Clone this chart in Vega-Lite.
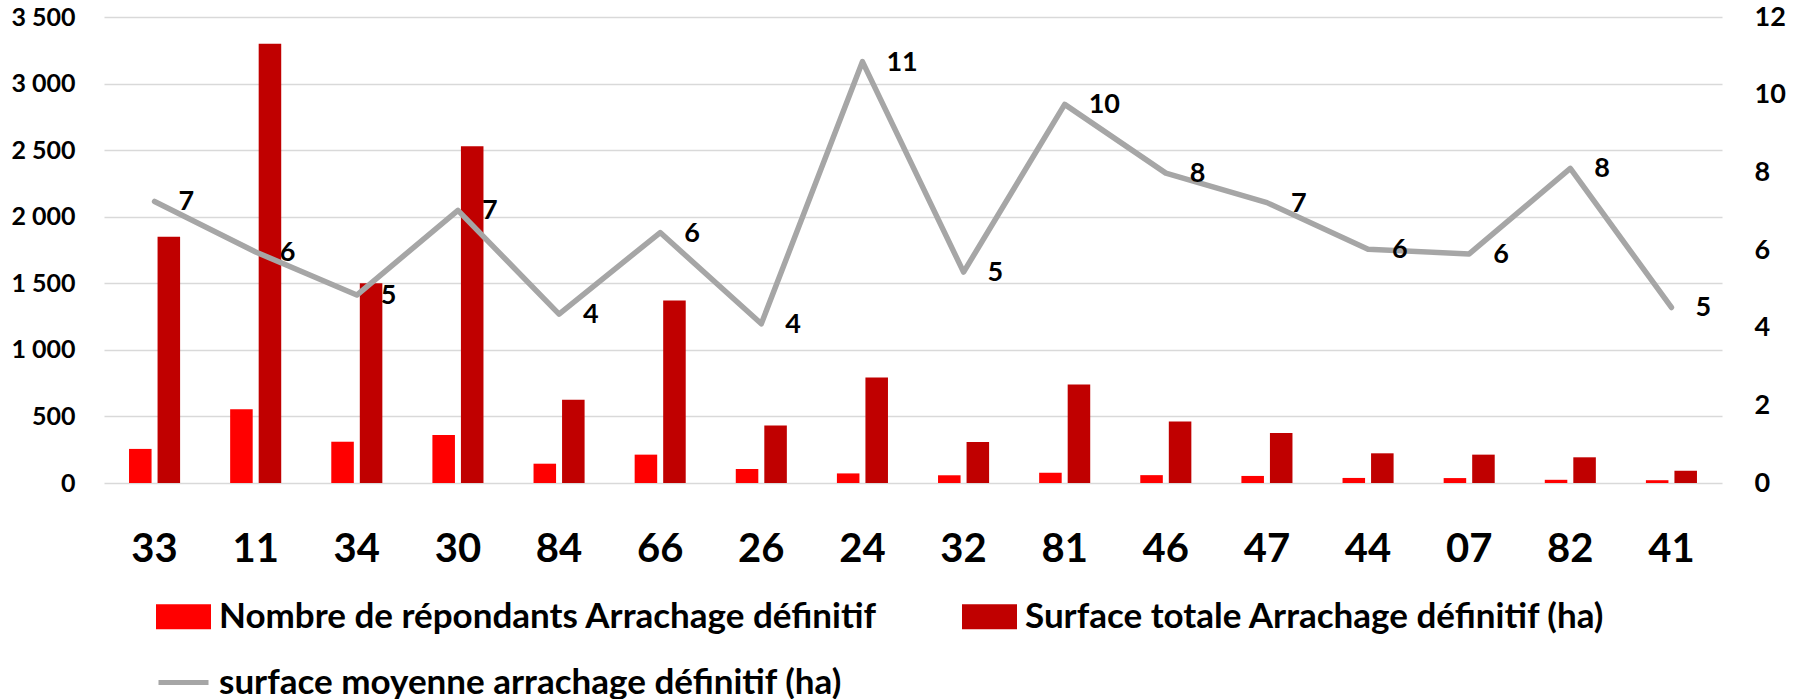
{
  "$schema": "https://vega.github.io/schema/vega-lite/v6.json",
  "width": 1618,
  "height": 466,
  "autosize": {"type": "none"},
  "padding": {"left": 104, "top": 17, "right": 80, "bottom": 216},
  "background": "white",
  "config": {
    "view": {"stroke": null},
    "font": "Lato",
    "axis": {"labelFont": "Lato", "labelFontWeight": "bold", "labelColor": "#000000", "domain": false, "ticks": false, "title": null}
  },
  "datasets": {
    "bars": [
      {"dep": "33", "serie": "Nombre de répondants Arrachage définitif", "value": 256},
      {"dep": "33", "serie": "Surface totale Arrachage définitif (ha)", "value": 1850},
      {"dep": "11", "serie": "Nombre de répondants Arrachage définitif", "value": 553},
      {"dep": "11", "serie": "Surface totale Arrachage définitif (ha)", "value": 3300},
      {"dep": "34", "serie": "Nombre de répondants Arrachage définitif", "value": 310},
      {"dep": "34", "serie": "Surface totale Arrachage définitif (ha)", "value": 1500},
      {"dep": "30", "serie": "Nombre de répondants Arrachage définitif", "value": 361},
      {"dep": "30", "serie": "Surface totale Arrachage définitif (ha)", "value": 2530},
      {"dep": "84", "serie": "Nombre de répondants Arrachage définitif", "value": 145},
      {"dep": "84", "serie": "Surface totale Arrachage définitif (ha)", "value": 626},
      {"dep": "66", "serie": "Nombre de répondants Arrachage définitif", "value": 213},
      {"dep": "66", "serie": "Surface totale Arrachage définitif (ha)", "value": 1370},
      {"dep": "26", "serie": "Nombre de répondants Arrachage définitif", "value": 105},
      {"dep": "26", "serie": "Surface totale Arrachage définitif (ha)", "value": 431},
      {"dep": "24", "serie": "Nombre de répondants Arrachage définitif", "value": 72},
      {"dep": "24", "serie": "Surface totale Arrachage définitif (ha)", "value": 792},
      {"dep": "32", "serie": "Nombre de répondants Arrachage définitif", "value": 58},
      {"dep": "32", "serie": "Surface totale Arrachage définitif (ha)", "value": 308},
      {"dep": "81", "serie": "Nombre de répondants Arrachage définitif", "value": 77},
      {"dep": "81", "serie": "Surface totale Arrachage définitif (ha)", "value": 739},
      {"dep": "46", "serie": "Nombre de répondants Arrachage définitif", "value": 59},
      {"dep": "46", "serie": "Surface totale Arrachage définitif (ha)", "value": 461},
      {"dep": "47", "serie": "Nombre de répondants Arrachage définitif", "value": 53},
      {"dep": "47", "serie": "Surface totale Arrachage définitif (ha)", "value": 376},
      {"dep": "44", "serie": "Nombre de répondants Arrachage définitif", "value": 38},
      {"dep": "44", "serie": "Surface totale Arrachage définitif (ha)", "value": 223},
      {"dep": "07", "serie": "Nombre de répondants Arrachage définitif", "value": 37},
      {"dep": "07", "serie": "Surface totale Arrachage définitif (ha)", "value": 213},
      {"dep": "82", "serie": "Nombre de répondants Arrachage définitif", "value": 24},
      {"dep": "82", "serie": "Surface totale Arrachage définitif (ha)", "value": 193},
      {"dep": "41", "serie": "Nombre de répondants Arrachage définitif", "value": 21},
      {"dep": "41", "serie": "Surface totale Arrachage définitif (ha)", "value": 92}
    ],
    "moy": [
      {"dep": "33", "value": 7.25},
      {"dep": "11", "value": 5.95},
      {"dep": "34", "value": 4.84},
      {"dep": "30", "value": 7.02},
      {"dep": "84", "value": 4.35},
      {"dep": "66", "value": 6.45},
      {"dep": "26", "value": 4.1},
      {"dep": "24", "value": 10.85},
      {"dep": "32", "value": 5.43},
      {"dep": "81", "value": 9.75},
      {"dep": "46", "value": 7.98},
      {"dep": "47", "value": 7.22},
      {"dep": "44", "value": 6.02},
      {"dep": "07", "value": 5.9},
      {"dep": "82", "value": 8.1},
      {"dep": "41", "value": 4.52}
    ]
  },
  "layer": [
    {
      "data": {"name": "bars"},
      "mark": {"type": "bar"},
      "encoding": {
        "x": {
          "field": "dep", "type": "nominal", "sort": null,
          "scale": {"domain": ["33","11","34","30","84","66","26","24","32","81","46","47","44","07","82","41"], "paddingInner": 0.495, "paddingOuter": 0.2475},
          "axis": {"labelAngle": 0, "labelFontSize": 40, "labelPadding": 46, "grid": false}
        },
        "xOffset": {
          "field": "serie", "type": "nominal", "sort": null,
          "scale": {"domain": ["Nombre de répondants Arrachage définitif", "Surface totale Arrachage définitif (ha)"], "paddingInner": 0.21, "paddingOuter": 0}
        },
        "y": {
          "field": "value", "type": "quantitative",
          "scale": {"domain": [0, 3500], "nice": false},
          "axis": {"values": [0,500,1000,1500,2000,2500,3000,3500], "labelFontSize": 25, "labelPadding": 29, "grid": true, "gridColor": "#D9D9D9", "gridWidth": 1.3,
                   "labelExpr": "replace(format(datum.value, ',.0f'), ',', ' ')"}
        },
        "color": {
          "field": "serie", "type": "nominal",
          "scale": {"domain": ["Nombre de répondants Arrachage définitif", "Surface totale Arrachage définitif (ha)", "surface moyenne arrachage définitif (ha)"], "range": ["#FF0000", "#C00000", "#A6A6A6"]},
          "legend": {
            "orient": "none", "legendX": 52, "legendY": 572, "columns": 2, "direction": "horizontal", "title": null,
            "labelFontSize": 35, "labelFont": "Lato", "labelFontWeight": "bold", "labelColor": "#000000", "labelLimit": 1000,
            "labelOffset": 8, "columnPadding": 76, "rowPadding": 18, "symbolSize": 2500,
            "symbolType": "M-1,-0.4H1V0.4H-1Z",
            "encode": {
              "symbols": {
                "update": {
                  "shape": {"signal": "datum.value === 'surface moyenne arrachage définitif (ha)' ? 'M-1,0H1' : 'M-1,-0.4H1V0.4H-1Z'"},
                  "fill": {"signal": "datum.value === 'Nombre de répondants Arrachage définitif' ? '#FF0000' : datum.value === 'Surface totale Arrachage définitif (ha)' ? '#C00000' : 'transparent'"},
                  "stroke": {"signal": "datum.value === 'surface moyenne arrachage définitif (ha)' ? '#A6A6A6' : 'transparent'"},
                  "strokeWidth": {"value": 5},
                  "opacity": {"value": 1}
                }
              }
            }
          }
        }
      }
    },
    {
      "data": {"name": "moy"},
      "layer": [
        {
          "mark": {"type": "line", "strokeWidth": 5.5, "strokeJoin": "round", "strokeCap": "round"},
          "encoding": {
            "x": {"field": "dep", "type": "nominal", "sort": null},
            "y": {
              "field": "value", "type": "quantitative",
              "scale": {"domain": [0, 12], "nice": false},
              "axis": {"orient": "right", "values": [0,2,4,6,8,10,12], "labelFontSize": 27, "labelPadding": 32, "grid": false}
            },
            "color": {"datum": "surface moyenne arrachage définitif (ha)"}
          }
        },
        {
          "mark": {"type": "text", "align": "left", "baseline": "middle", "dx": 24, "dy": 1, "fontSize": 27, "fontWeight": "bold", "color": "#000000", "font": "Lato"},
          "encoding": {
            "x": {"field": "dep", "type": "nominal", "sort": null},
            "y": {"field": "value", "type": "quantitative"},
            "text": {"field": "value", "type": "quantitative", "format": ".0f"}
          }
        }
      ]
    }
  ],
  "resolve": {"scale": {"y": "independent"}}
}
